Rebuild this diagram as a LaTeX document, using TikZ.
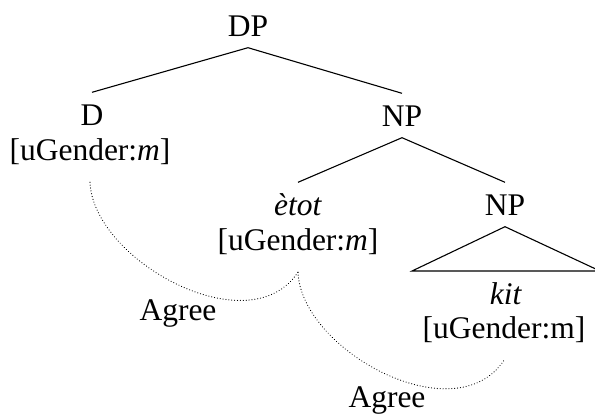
\documentclass[tikz,border=0pt]{standalone}
\usepackage{fontspec}
\setmainfont{Liberation Serif}
\begin{document}
\begin{tikzpicture}[x=1pt,y=-1pt,
  txt/.style={anchor=base,font=\fontsize{31.5}{36}\selectfont},
  lab/.style={txt,text height=21pt,text depth=0pt,inner sep=11.5pt},
  feat/.style={txt,text depth=7pt,inner xsep=2pt,inner ysep=15pt},
  branch/.style={line width=1.1pt},
  agreeline/.style={line width=1.1pt,dash pattern=on 0.1pt off 2.8pt,line cap=round}]
\useasboundingbox (0,0) rectangle (595,415);
\node[lab] (DP) at (248,36) {DP};
\node[lab] (D) at (92,125) {D};
\node[feat] (Df) at (90,160) {[uGender:\textit{m}]};
\node[lab] (NPa) at (402,126) {NP};
\node[lab] (etot) at (298,215) {\textit{ètot}};
\node[feat] (ef) at (298,250) {[uGender:\textit{m}]};
\node[lab] (NPb) at (505,215) {NP};
\coordinate (tl) at (412,271);
\coordinate (tr) at (600,271);
\node[lab] (kit) at (506,304) {\textit{kit}};
\node[feat] (kf) at (504,338) {[uGender:m]};
\node[txt,inner sep=0pt] (ag1) at (178,320) {Agree};
\node[txt,inner sep=0pt] (ag2) at (387,407) {Agree};
\draw[branch] (D.north) -- (DP.south) -- (NPa.north);
\draw[branch] (etot.north) -- (NPa.south) -- (NPb.north);
\draw[branch] (tl) -- (NPb.south) -- (tr) -- cycle;
\draw[agreeline] (Df.south) .. controls +(3,78) and +(-49,74) .. (ef.south);
\draw[agreeline] (ef.south) .. controls +(3,78) and +(-49,74) .. (kf.south);
\end{tikzpicture}
\end{document}
